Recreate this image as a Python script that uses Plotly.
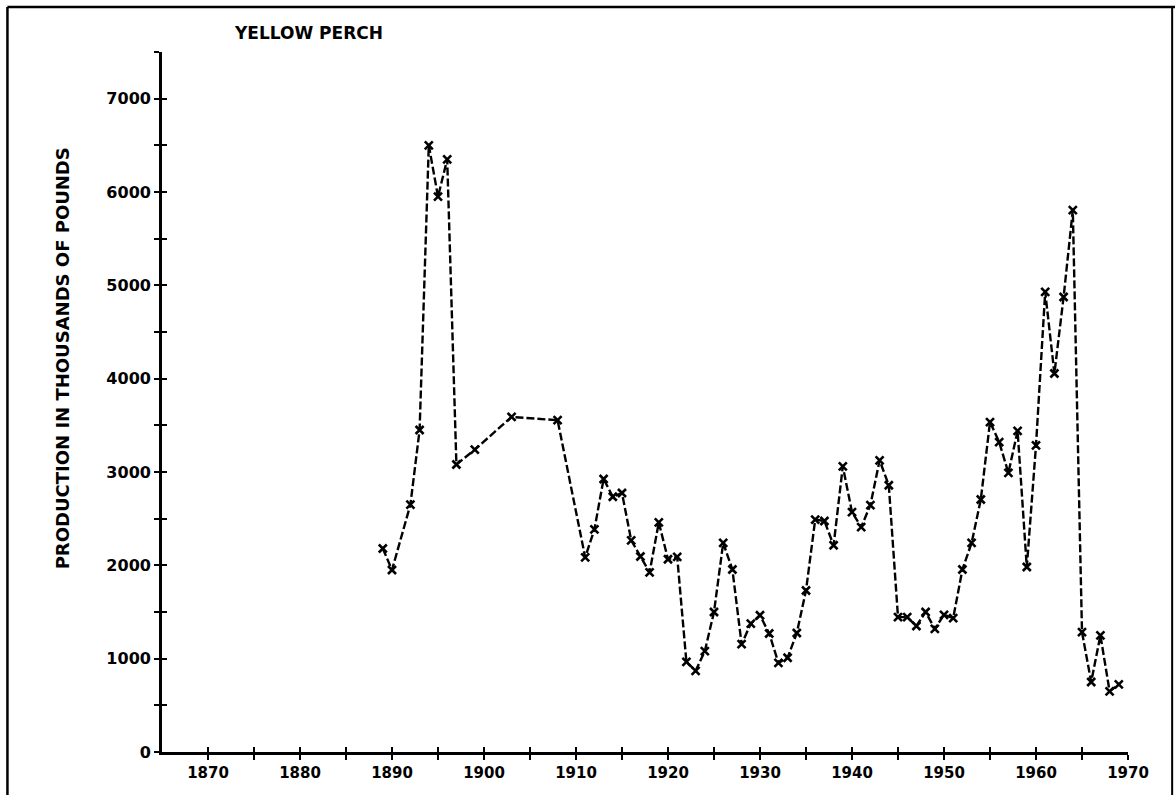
import plotly.graph_objects as go

# ---- data ----
years = [1889, 1890, 1892, 1893, 1894, 1895, 1896, 1897, 1899, 1903, 1908,
         1911, 1912, 1913, 1914, 1915, 1916, 1917, 1918, 1919, 1920,
         1921, 1922, 1923, 1924, 1925, 1926, 1927, 1928, 1929, 1930,
         1931, 1932, 1933, 1934, 1935, 1936, 1937, 1938, 1939, 1940,
         1941, 1942, 1943, 1944, 1945, 1946, 1947, 1948, 1949, 1950,
         1951, 1952, 1953, 1954, 1955, 1956, 1957, 1958, 1959, 1960,
         1961, 1962, 1963, 1964, 1965, 1966, 1967, 1968, 1969]
production = [2180, 1950, 2650, 3450, 6500, 5950, 6350, 3080, 3240, 3590, 3555,
              2085, 2385, 2925, 2735, 2775, 2268, 2095, 1925, 2460, 2065,
              2090, 965, 870, 1080, 1500, 2240, 1955, 1155, 1375, 1465,
              1270, 955, 1010, 1275, 1730, 2490, 2475, 2215, 3060, 2570,
              2410, 2645, 3125, 2858, 1445, 1445, 1350, 1500, 1320, 1470,
              1435, 1955, 2240, 2705, 3535, 3320, 2990, 3440, 1982, 3285,
              4930, 4055, 4875, 5805, 1285, 750, 1250, 650, 725]

x_tickvals = list(range(1870, 1975, 5))
x_ticktext = [str(v) if v % 10 == 0 else "" for v in x_tickvals]
y_tickvals = list(range(0, 8000, 500))
y_ticktext = [str(v) if v % 1000 == 0 and v <= 7000 else "" for v in y_tickvals]

title_text = "YELLOW PERCH"
ytitle_text = "PRODUCTION IN THOUSANDS OF POUNDS"

FONT = "DejaVu Sans"

fig = go.Figure()
fig.add_trace(go.Scatter(
    x=years, y=production, mode="lines+markers",
    line=dict(color="black", width=2.4, dash="8px,3px"),
    marker=dict(symbol="x-thin", size=8, line=dict(color="black", width=2.6), color="black"),
    showlegend=False, xaxis="x", yaxis="y",
))
# invisible trace on overlay axes so they render
fig.add_trace(go.Scatter(x=[years[0]], y=[production[0]], mode="markers",
                         marker=dict(opacity=0), showlegend=False, hoverinfo="skip",
                         xaxis="x2", yaxis="y2"))

axis_common = dict(showgrid=False, zeroline=False, showline=True, linecolor="black",
                   linewidth=2.8, tickcolor="black", tickwidth=2.2)

fig.update_layout(
    width=1175, height=795,
    margin=dict(l=162, r=47, t=52, b=43),
    paper_bgcolor="white", plot_bgcolor="white",
    font=dict(family=FONT, color="black", size=15, weight="bold"),
    xaxis=dict(range=[1865, 1970], tickmode="array", tickvals=x_tickvals, ticktext=x_ticktext,
               ticks="outside", ticklen=5,
               tickfont=dict(size=15, family=FONT, weight="bold"), **axis_common),
    yaxis=dict(range=[0, 7500], tickmode="array", tickvals=y_tickvals, ticktext=y_ticktext,
               ticks="outside", ticklen=5,
               tickfont=dict(size=16, family=FONT, weight="bold"), **axis_common),
    xaxis2=dict(range=[1865, 1970], overlaying="x", anchor="y2", side="bottom",
                tickmode="array", tickvals=x_tickvals, showticklabels=False,
                ticks="inside", ticklen=5, **axis_common),
    yaxis2=dict(range=[0, 7500], overlaying="y", anchor="x2", side="left",
                tickmode="array", tickvals=y_tickvals, showticklabels=False,
                ticks="inside", ticklen=5, **axis_common),
    annotations=[
        dict(text=title_text, xref="paper", yref="paper", x=0.0728, y=1.0267,
             xanchor="left", yanchor="middle", showarrow=False,
             font=dict(size=17, family=FONT, color="black", weight="bold")),
        dict(text=ytitle_text, xref="paper", yref="paper", x=0, xshift=-100, y=0.5624,
             xanchor="center", yanchor="middle", textangle=-90, showarrow=False,
             font=dict(size=18, family=FONT, color="black", weight="bold")),
    ],
    shapes=[
        dict(type="line", xref="paper", yref="paper", x0=-0.160, x1=1.05, y0=1.0643, y1=1.0643,
             line=dict(color="black", width=2.5)),
        dict(type="line", xref="paper", yref="paper", x0=-0.160, x1=-0.160, y0=-0.062, y1=1.0643,
             line=dict(color="black", width=2.5)),
        dict(type="line", xref="paper", yref="paper", x0=1.0457, x1=1.0457, y0=-0.062, y1=1.0643,
             line=dict(color="black", width=2)),
    ],
)

fig.write_html("out.html", config={"displayModeBar": False},
               post_script="document.body.style.margin='0';document.body.style.overflow='hidden';")
